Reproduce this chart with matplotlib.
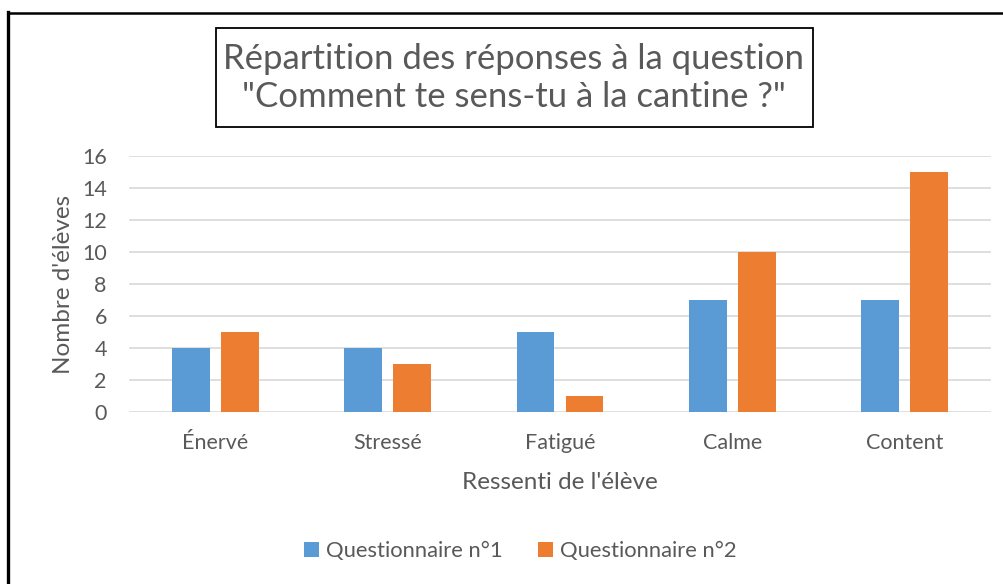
import matplotlib.pyplot as plt
import numpy as np
from matplotlib.patches import Rectangle
from matplotlib.lines import Line2D

categories = ["Énervé", "Stressé", "Fatigué", "Calme", "Content"]
q1 = [4, 4, 5, 7, 7]
q2 = [5, 3, 1, 10, 15]
series_names = ["Questionnaire n°1", "Questionnaire n°2"]
yticks = [0, 2, 4, 6, 8, 10, 12, 14, 16]

plt.rcParams['font.family'] = ['Lato', 'DejaVu Sans']
TXT = '#595959'
W, H = 1004, 584

fig = plt.figure(figsize=(W / 100, H / 100), dpi=100)

# plot area in pixel terms
left, right, top, bottom = 129, 991, 156, 412
ax = fig.add_axes([left / W, 1 - bottom / H, (right - left) / W, (bottom - top) / H])

x = np.arange(len(categories))
w = 0.22
off = 0.142
ax.bar(x - off, q1, w, color='#5B9BD5', label=series_names[0], zorder=3)
ax.bar(x + off, q2, w, color='#ED7D31', label=series_names[1], zorder=3)

ax.set_xlim(-0.5, len(categories) - 0.5)
ax.set_ylim(0, 16)
ax.set_yticks(yticks)
ax.set_xticks(x)
ax.set_xticklabels(categories)
ax.yaxis.grid(True, color='#D9D9D9', linewidth=1.2, zorder=0)
for s in ax.spines.values():
    s.set_visible(False)
ax.tick_params(length=0, labelsize=15.5, colors=TXT)
ax.tick_params(axis='y', pad=16)
ax.tick_params(axis='x', pad=15)
ax.set_xlabel("Ressenti de l'élève", fontsize=17.5, color=TXT, labelpad=14)
ax.set_ylabel("Nombre d'élèves", fontsize=17.5, color=TXT, labelpad=6)

# title box
fig.add_artist(Rectangle((216 / W, 1 - 127 / H), (813 - 216) / W, (127 - 28) / H,
                         transform=fig.transFigure, fill=False, edgecolor='black', linewidth=1.3))
fig.text(514 / W, 1 - 78 / H, 'Répartition des réponses à la question\n"Comment te sens-tu à la cantine ?"',
         ha='center', va='center', fontsize=25, color=TXT, linespacing=1.25)

# outer frame (left and top only)
fig.add_artist(Line2D([8.5 / W, 8.5 / W], [0, 1 - 12 / H], transform=fig.transFigure,
                      color='black', linewidth=2.4, solid_capstyle='projecting'))
fig.add_artist(Line2D([8.5 / W, 1], [1 - 12.5 / H, 1 - 12.5 / H], transform=fig.transFigure,
                      color='black', linewidth=1.8))

leg = fig.legend(loc='center', bbox_to_anchor=(520 / W, 1 - 551 / H), ncol=2, frameon=False,
                 fontsize=15.8, handlelength=0.7, handleheight=0.7, handletextpad=0.3,
                 columnspacing=1.6)
for t in leg.get_texts():
    t.set_color(TXT)

fig.savefig('out.png', dpi=100)
